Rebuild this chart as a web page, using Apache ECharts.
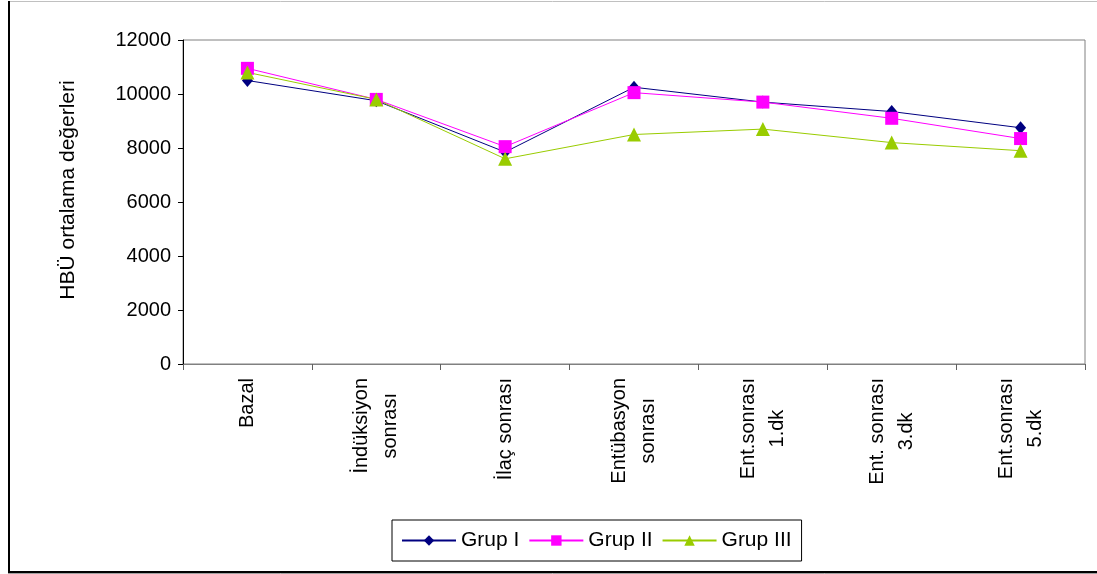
<!DOCTYPE html>
<html>
<head>
<meta charset="utf-8">
<script src="https://cdn.jsdelivr.net/npm/echarts@6/dist/echarts.min.js"></script>
<style>
html,body{margin:0;padding:0;background:#fff;}
#chart{width:1097px;height:574px;}
</style>
</head>
<body>
<div id="chart"></div>
<script>
const categories = ['Bazal', 'İndüksiyon\nsonrası', 'İlaç sonrası', 'Entübasyon\nsonrası', 'Ent.sonrası\n1.dk', 'Ent. sonrası\n3.dk', 'Ent.sonrası\n5.dk'];
const grup1 = [10500, 9750, 7850, 10250, 9700, 9350, 8750];
const grup2 = [10950, 9800, 8050, 10050, 9700, 9100, 8350];
const grup3 = [10800, 9800, 7600, 8500, 8700, 8200, 7900];
const seriesNames = ['Grup I', 'Grup II', 'Grup III'];
const yTicks = {min: 0, max: 12000, interval: 2000};
const yTitle = 'HBÜ ortalama değerleri';

const FONT = 'Liberation Sans, Arial, sans-serif';
const chart = echarts.init(document.getElementById('chart'));

function mkSeries(name, data, color, symbol, size) {
  return {
    name: name, type: 'line', data: data,
    symbol: symbol, symbolSize: size,
    lineStyle: {color: color, width: 1},
    itemStyle: {color: color},
    emphasis: {disabled: true},
    animation: false
  };
}

chart.setOption({
  animation: false,
  backgroundColor: '#ffffff',
  textStyle: {fontFamily: FONT},
  grid: {left: 183, right: 12, top: 40, bottom: 210, show: true, borderColor: '#808080', borderWidth: 1},
  legend: {
    data: seriesNames,
    left: 392, top: 520,
    padding: [10, 10, 10, 9],
    itemGap: 9,
    itemWidth: 54, itemHeight: 13,
    borderColor: '#000', borderWidth: 1,
    backgroundColor: '#fff',
    textStyle: {fontFamily: FONT, fontSize: 21, color: '#000'}
  },
  xAxis: {
    type: 'category',
    data: categories,
    boundaryGap: true,
    axisLine: {lineStyle: {color: '#808080', width: 1}},
    axisTick: {show: true, length: 6, lineStyle: {color: '#606060'}},
    axisLabel: {
      rotate: 90, margin: 14, interval: 0,
      fontFamily: FONT, fontSize: 20, color: '#000',
      formatter: function (v) { return v.split('\n').map(function (l) { return '{c|' + l + '}'; }).join('\n'); },
      rich: {c: {align: 'center', fontFamily: FONT, fontSize: 20, color: '#000', lineHeight: 29}}
    },
    splitLine: {show: false}
  },
  yAxis: {
    type: 'value',
    min: yTicks.min, max: yTicks.max, interval: yTicks.interval,
    name: yTitle, nameLocation: 'middle', nameRotate: 90, nameGap: 104,
    nameTextStyle: {fontFamily: FONT, fontSize: 21, color: '#000', padding: [0, 0, 0, 24]},
    axisLine: {show: true, lineStyle: {color: '#000', width: 1}},
    axisTick: {show: true, length: 5, lineStyle: {color: '#000'}},
    axisLabel: {margin: 12, fontFamily: FONT, fontSize: 20, color: '#000', formatter: function (v) { return String(v); }},
    splitLine: {show: false}
  },
  series: [
    mkSeries(seriesNames[0], grup1, '#000080', 'diamond', [11, 13]),
    mkSeries(seriesNames[1], grup2, '#FF00FF', 'rect', 13),
    mkSeries(seriesNames[2], grup3, '#99CC00', 'triangle', 14)
  ],
  graphic: [
    {type: 'line', shape: {x1: 8, y1: 1.5, x2: 1097, y2: 1.5}, style: {stroke: '#c0c0c0', lineWidth: 1}, silent: true},
    {type: 'line', shape: {x1: 9, y1: 1, x2: 9, y2: 574}, style: {stroke: '#000', lineWidth: 2}, silent: true},
    {type: 'line', shape: {x1: 8, y1: 572, x2: 1097, y2: 572}, style: {stroke: '#000', lineWidth: 2}, silent: true},
    {type: 'line', shape: {x1: 8, y1: 573.5, x2: 1097, y2: 573.5}, style: {stroke: '#a0a0a0', lineWidth: 1}, silent: true}
  ]
});
</script>
</body>
</html>
